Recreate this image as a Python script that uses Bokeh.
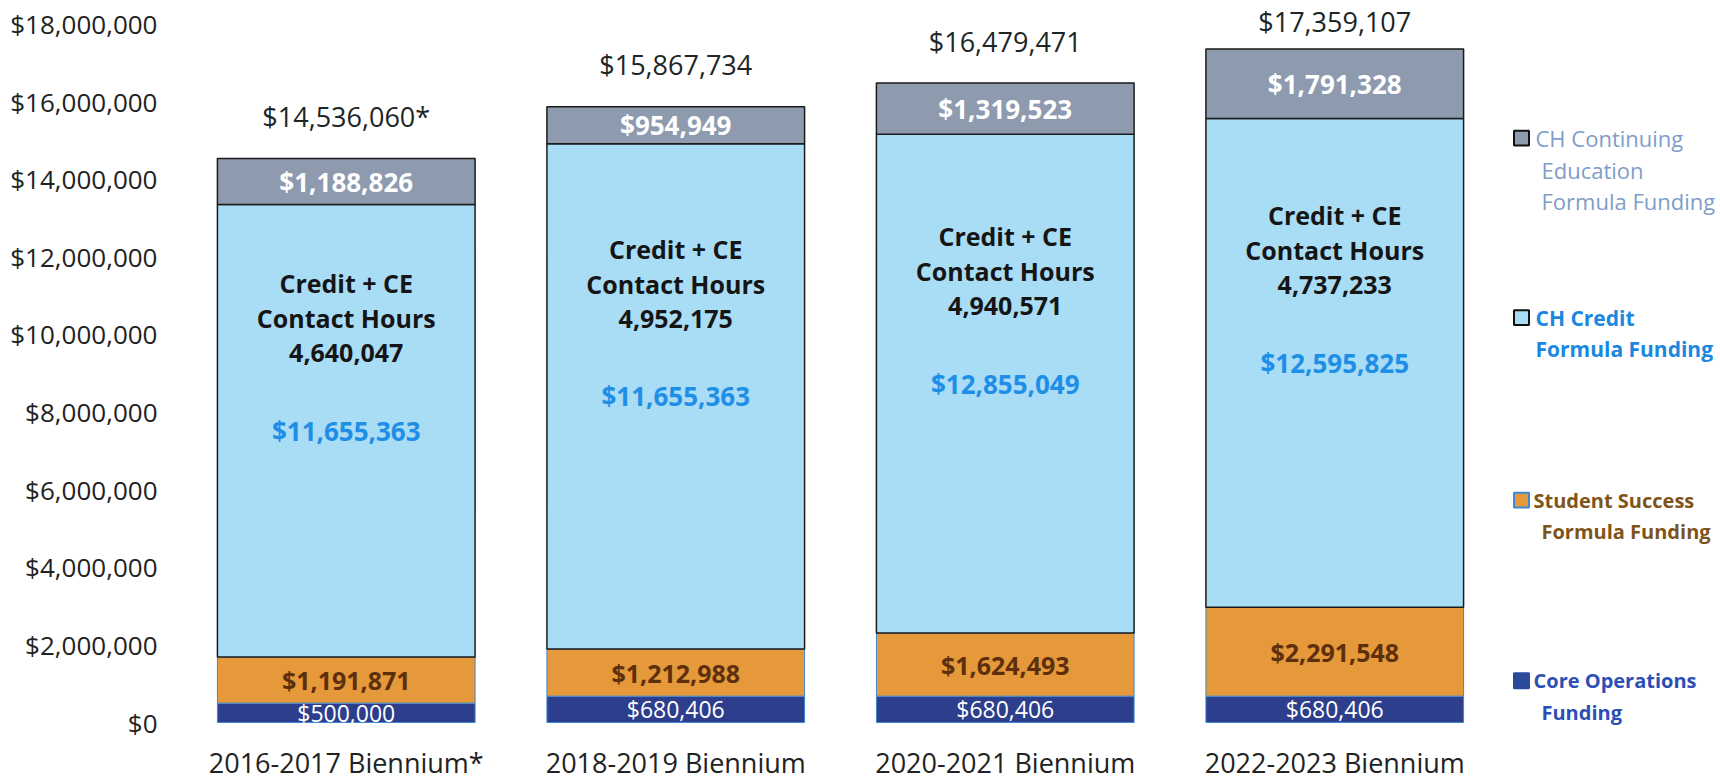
import numpy as np
from bokeh.plotting import figure
from bokeh.models import (ColumnDataSource, FactorRange, Range1d, FixedTicker,
                          NumeralTickFormatter, LabelSet)
from bokeh.layouts import row
from bokeh.core.properties import value
from bokeh.embed import file_html
from bokeh.resources import INLINE

# ---------------- data ----------------
categories = ["2016-2017 Biennium*", "2018-2019 Biennium",
              "2020-2021 Biennium", "2022-2023 Biennium"]
core_operations = [500000, 680406, 680406, 680406]
student_success = [1191871, 1212988, 1624493, 2291548]
ch_credit = [11655363, 13019391, 12855049, 12595825]          # height as drawn
ch_credit_printed = ["$11,655,363", "$11,655,363", "$12,855,049", "$12,595,825"]
ch_continuing_ed = [1188826, 954949, 1319523, 1791328]
contact_hours = [4640047, 4952175, 4940571, 4737233]
footnote_marks = ["*", "", "", ""]
y_ticks = [0, 2000000, 4000000, 6000000, 8000000, 10000000,
           12000000, 14000000, 16000000, 18000000]

series_names = [["CH Continuing", "Education", "Formula Funding"],
                ["CH Credit", "Formula Funding"],
                ["Student Success", "Formula Funding"],
                ["Core Operations", "Funding"]]

# ---------------- styles ----------------
FONT = "Open Sans"
fill_colors = ["#2c3e8c", "#e5993a", "#a9dcf5", "#8e9aae"]      # core, success, credit, ce
edge_colors = ["#3b8ad6", "#3b8ad6", "#1a1a1a", "#1a1a1a"]
edge_widths = [1, 1, 1.5, 1.5]

H = 783
FRAME_H = 736
BOTTOM = H - FRAME_H
PX = 38.91 / 1e6                   # pixels per dollar
ZERO_PX = 724                      # page row of $0
Y_START = -(FRAME_H - ZERO_PX) / PX
Y_END = ZERO_PX / PX

core = np.array(core_operations, dtype=float)
succ = np.array(student_success, dtype=float)
cred = np.array(ch_credit, dtype=float)
ce = np.array(ch_continuing_ed, dtype=float)
total = core + succ + cred + ce

src = ColumnDataSource(dict(cat=categories, core=core, success=succ,
                            credit=cred, ce=ce))

p = figure(x_range=FactorRange(factors=categories, range_padding=0),
           y_range=Range1d(Y_START, Y_END),
           width=1499, height=H,
           min_border_left=181, min_border_right=0, min_border_top=0,
           min_border_bottom=BOTTOM,
           output_backend="svg", toolbar_location=None,
           outline_line_color=None, background_fill_color="white")

p.vbar_stack(["core", "success", "credit", "ce"], x="cat", width=0.782,
             source=src, fill_color=fill_colors, line_color=edge_colors,
             line_width=edge_widths)

def seg_text(ys, texts, color, size, style):
    s = ColumnDataSource(dict(cat=categories, y=list(ys), t=texts))
    p.text(x="cat", y="y", text="t", source=s, text_align="center",
           text_baseline="middle", text_font=value(FONT),
           text_font_size=value(size), text_color=color,
           text_font_style=style)

# segment labels
seg_text(core / 2, [f"${v:,}" for v in core_operations], "white", "23px", "normal")
seg_text(core + succ / 2, [f"${v:,}" for v in student_success], "#5e2f0c", "25px", "bold")
cred_mid = core + succ + cred / 2
seg_text(cred_mid, ch_credit_printed, "#1f8ee6", "26px", "bold")
seg_text(core + succ + cred + ce / 2, [f"${v:,}" for v in ch_continuing_ed],
         "white", "26px", "bold")

# contact hour blocks
block_mid = cred_mid + 2.9e6
gap = 35 / PX
seg_text(block_mid + gap, ["Credit + CE"] * 4, "#151515", "25px", "bold")
seg_text(block_mid, ["Contact Hours"] * 4, "#151515", "25px", "bold")
seg_text(block_mid - gap, [f"{v:,}" for v in contact_hours], "#151515", "25px", "bold")

# totals (kept inside the canvas)
tot_y = np.minimum(total + 42 / PX, Y_END - 21 / PX)
tot_src = ColumnDataSource(dict(cat=categories, y=list(tot_y),
                                t=[f"${int(v):,}{m}" for v, m in zip(total, footnote_marks)]))
p.add_layout(LabelSet(x="cat", y="y", text="t", source=tot_src,
                      text_align="center", text_baseline="middle",
                      text_font=value(FONT), text_font_size=value("27px"),
                      text_color="#1c2626"))

# axes
p.xgrid.grid_line_color = None
p.ygrid.grid_line_color = None
p.yaxis.ticker = FixedTicker(ticks=y_ticks)
p.yaxis.formatter = NumeralTickFormatter(format="$0,0")
for ax in p.axis:
    ax.axis_line_color = None
    ax.major_tick_line_color = None
    ax.minor_tick_line_color = None
    ax.major_tick_in = 0
    ax.major_tick_out = 0
    ax.major_label_text_font = FONT
    ax.major_label_text_color = "#222222"
p.yaxis.major_label_text_font_size = "26px"
p.yaxis.major_label_standoff = 24
p.xaxis.major_label_text_font_size = "27px"
p.xaxis.major_label_standoff = 9

# ---------------- legend panel ----------------
LW = 221
leg = figure(x_range=Range1d(0, LW), y_range=Range1d(FRAME_H, 0),
             width=LW, height=H, x_axis_location=None, y_axis_location=None,
             min_border_left=0, min_border_right=0, min_border_top=0,
             min_border_bottom=BOTTOM, output_backend="svg",
             toolbar_location=None, outline_line_color=None)
leg.xgrid.visible = False
leg.ygrid.visible = False

legend_order = [3, 2, 1, 0]           # top to bottom: ce, credit, success, core
legend_text_colors = ["#7f9dc9", "#1a88e0", "#7f5418", "#2d4fb5"]
legend_styles = ["normal", "bold", "bold", "bold"]
legend_sizes = ["22px", "21px", "20px", "20px"]
legend_sq_edge = ["#111111", "#111111", "#3b8ad6", "#2c4a9c"]
row_tops = [138, 318, 501, 682]
first_x = [36, 36, 34, 34]
next_x = [42, 36, 42, 42]
LINE = 31.5

sq = dict(x=[], y=[], fill=[], edge=[])
tx = dict(x=[], y=[], t=[], c=[], st=[], sz=[])
for i, si in enumerate(legend_order):
    sq["x"].append(22); sq["y"].append(row_tops[i])
    sq["fill"].append(fill_colors[si] if si != 0 else "#2c4a9c")
    sq["edge"].append(legend_sq_edge[i])
    for j, line in enumerate(series_names[i]):
        tx["x"].append(first_x[i] if j == 0 else next_x[i])
        tx["y"].append(row_tops[i] + j * LINE)
        tx["t"].append(line)
        tx["c"].append(legend_text_colors[i])
        tx["st"].append(legend_styles[i])
        tx["sz"].append(legend_sizes[i])

leg.rect(x="x", y="y", width=15, height=15, source=ColumnDataSource(sq),
         fill_color="fill", line_color="edge", line_width=2)
leg.text(x="x", y="y", text="t", source=ColumnDataSource(tx),
         text_align="left", text_baseline="middle", text_font=value(FONT),
         text_font_size="sz", text_color="c", text_font_style="st")

layout = row(p, leg)
open("out.html", "w").write(file_html(layout, INLINE))
